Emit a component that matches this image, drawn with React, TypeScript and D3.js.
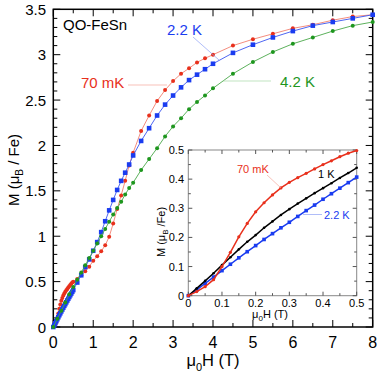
import React, { useEffect, useRef } from 'react';
import * as d3 from 'd3';

// main panel: field (T) and magnetisation (muB/Fe)
const fieldLow = [0, 0.025, 0.05, 0.075, 0.1, 0.125, 0.15, 0.175, 0.2, 0.225, 0.25, 0.275, 0.3, 0.325, 0.35, 0.375, 0.4, 0.425, 0.45, 0.475, 0.5];
const red70mKLow = [0, 0.014, 0.031, 0.055, 0.1, 0.149, 0.202, 0.248, 0.288, 0.319, 0.346, 0.37, 0.389, 0.405, 0.42, 0.435, 0.45, 0.463, 0.477, 0.489, 0.498];
const blue22KLow = [0, 0.02, 0.042, 0.064, 0.086, 0.108, 0.13, 0.151, 0.172, 0.193, 0.213, 0.233, 0.252, 0.272, 0.292, 0.311, 0.331, 0.35, 0.369, 0.388, 0.407];
const black1KLow = [0, 0.025, 0.051, 0.077, 0.105, 0.132, 0.159, 0.185, 0.208, 0.233, 0.255, 0.277, 0.297, 0.316, 0.334, 0.352, 0.369, 0.386, 0.404, 0.421, 0.439];

const fieldHigh = [0.6, 0.7, 0.8, 0.9, 1.0, 1.1, 1.2, 1.3, 1.4, 1.5, 1.6, 1.7, 1.8, 1.9, 2.0, 2.2, 2.4, 2.6, 2.8, 3.0, 3.2, 3.4, 3.6, 3.8, 4.0, 4.5, 5, 5.5, 6, 6.5, 7, 7.5, 8];
const red70mKHigh = [0.53, 0.57, 0.615, 0.665, 0.73, 0.78, 0.835, 0.9, 0.995, 1.14, 1.3, 1.45, 1.61, 1.78, 1.92, 2.16, 2.33, 2.49, 2.61, 2.71, 2.79, 2.85, 2.915, 2.96, 3.0, 3.1, 3.17, 3.23, 3.29, 3.33, 3.38, 3.42, 3.44];
const blue22KHigh = [0.49, 0.57, 0.66, 0.745, 0.84, 0.935, 1.045, 1.165, 1.285, 1.4, 1.51, 1.61, 1.7, 1.79, 1.89, 2.05, 2.19, 2.33, 2.45, 2.55, 2.64, 2.72, 2.78, 2.84, 2.9, 3.02, 3.11, 3.19, 3.26, 3.32, 3.36, 3.4, 3.44];

const field42K = [0, 0.1, 0.2, 0.3, 0.4, 0.5, 0.6, 0.7, 0.8, 0.9, 1.0, 1.1, 1.2, 1.3, 1.4, 1.5, 1.6, 1.7, 1.8, 1.9, 2.0, 2.2, 2.4, 2.6, 2.8, 3.0, 3.2, 3.4, 3.6, 3.8, 4.0, 4.5, 5, 5.5, 6, 6.5, 7, 7.5, 8];
const green42K = [0, 0.09, 0.18, 0.27, 0.36, 0.44, 0.52, 0.6, 0.68, 0.76, 0.84, 0.92, 1.0, 1.08, 1.16, 1.24, 1.31, 1.38, 1.46, 1.53, 1.59, 1.73, 1.85, 1.97, 2.1, 2.21, 2.3, 2.4, 2.48, 2.55, 2.63, 2.79, 2.92, 3.03, 3.12, 3.19, 3.26, 3.32, 3.36];

const xTicks = [0, 1, 2, 3, 4, 5, 6, 7, 8];
const yTicks = [0, 0.5, 1, 1.5, 2, 2.5, 3, 3.5];
const insetTicks = [0, 0.1, 0.2, 0.3, 0.4, 0.5];

const zip = (xs: number[], ys: number[]) => xs.map((h, i) => ({ h, m: ys[i] }));

const FONT = 'Liberation Sans, Arial, Helvetica, sans-serif';

function App() {
  const svgRef = useRef<SVGSVGElement>(null);

  useEffect(() => {
    const svg = d3.select(svgRef.current);
    svg.selectAll('*').remove();
    svg.style('font-family', FONT);

    const x = d3.scaleLinear().domain([0, 8]).range([53.3, 372.7]);
    const y = d3.scaleLinear().domain([0, 3.5]).range([327, 9.3]);

    const redMain = zip(fieldLow, red70mKLow).concat(zip(fieldHigh, red70mKHigh));
    const blueMain = zip(fieldLow, blue22KLow).concat(zip(fieldHigh, blue22KHigh));
    const greenMain = zip(field42K, green42K);

    // frame + ticks (inward, all four sides)
    const g = svg.append('g');
    const [x0, x1] = x.range();
    const [y0, y1] = y.range();
    g.append('rect').attr('x', x0).attr('y', y1).attr('width', x1 - x0).attr('height', y0 - y1)
      .attr('fill', 'none').attr('stroke', '#000').attr('stroke-width', 1.5);

    d3.range(0, 8.01, 0.5).forEach((v) => {
      const len = Math.abs(v - Math.round(v)) < 1e-6 ? 7 : 4;
      g.append('line').attr('x1', x(v)).attr('x2', x(v)).attr('y1', y0).attr('y2', y0 - len).attr('stroke', '#000');
      g.append('line').attr('x1', x(v)).attr('x2', x(v)).attr('y1', y1).attr('y2', y1 + len).attr('stroke', '#000');
    });
    d3.range(0, 3.501, 0.1).forEach((v) => {
      const len = Math.abs(v * 2 - Math.round(v * 2)) < 1e-6 ? 7 : 4;
      g.append('line').attr('x1', x0).attr('x2', x0 + len).attr('y1', y(v)).attr('y2', y(v)).attr('stroke', '#000');
      g.append('line').attr('x1', x1).attr('x2', x1 - len).attr('y1', y(v)).attr('y2', y(v)).attr('stroke', '#000');
    });

    g.selectAll('.xl').data(xTicks).enter().append('text')
      .attr('x', (d) => x(d)).attr('y', 348).attr('text-anchor', 'middle')
      .attr('font-size', 16).text((d) => String(d));
    g.selectAll('.yl').data(yTicks).enter().append('text')
      .attr('x', 46).attr('y', (d) => y(d) + 5.5).attr('text-anchor', 'end')
      .attr('font-size', 15).text((d) => String(d));

    // axis titles
    const yt = g.append('text').attr('transform', 'translate(19,170) rotate(-90)')
      .attr('text-anchor', 'middle').attr('font-size', 15);
    yt.append('tspan').text('M (μ');
    yt.append('tspan').attr('font-size', 10).attr('dy', 4).text('B');
    yt.append('tspan').attr('dy', -4).text(' / Fe)');

    const xt = g.append('text').attr('x', 213).attr('y', 366).attr('text-anchor', 'middle').attr('font-size', 16.5);
    xt.append('tspan').text('μ');
    xt.append('tspan').attr('font-size', 11).attr('dy', 5).text('0');
    xt.append('tspan').attr('dy', -5).text('H (T)');

    // main curves
    const line = d3.line<{ h: number; m: number }>().x((d) => x(d.h)).y((d) => y(d.m));
    const drawCircles = (data: { h: number; m: number }[], lineColor: string, color: string) => {
      g.append('path').datum(data).attr('d', line).attr('fill', 'none').attr('stroke', lineColor).attr('stroke-width', 0.9);
      g.append('g').selectAll('circle').data(data).enter().append('circle')
        .attr('cx', (d) => x(d.h)).attr('cy', (d) => y(d.m)).attr('r', 2).attr('fill', color);
    };
    drawCircles(redMain, '#f3806f', '#e8301c');
    g.append('path').datum(blueMain).attr('d', line).attr('fill', 'none').attr('stroke', '#3a55f0').attr('stroke-width', 0.9);
    g.append('g').selectAll('rect').data(blueMain).enter().append('rect')
      .attr('x', (d) => x(d.h) - 2.3).attr('y', (d) => y(d.m) - 2.3).attr('width', 4.6).attr('height', 4.6).attr('fill', '#1a3cf0');
    drawCircles(greenMain, '#4aa84a', '#1e961e');

    // main labels
    g.append('text').attr('x', 63).attr('y', 30).attr('font-size', 15).text('QO-FeSn');
    g.append('text').attr('x', 167).attr('y', 35).attr('font-size', 15).attr('fill', '#1a3cf0').text('2.2 K');
    g.append('line').attr('x1', 193).attr('y1', 37).attr('x2', 219).attr('y2', 60).attr('stroke', '#8ea0f5').attr('stroke-width', 0.7);
    g.append('text').attr('x', 81).attr('y', 88).attr('font-size', 15).attr('fill', '#e8301c').text('70 mK');
    g.append('line').attr('x1', 128).attr('y1', 85).attr('x2', 167).attr('y2', 85).attr('stroke', '#f5a89c').attr('stroke-width', 0.7);
    g.append('text').attr('x', 280).attr('y', 87).attr('font-size', 15).attr('fill', '#1e961e').text('4.2 K');
    g.append('line').attr('x1', 223).attr('y1', 81).attr('x2', 271).attr('y2', 81).attr('stroke', '#a8d8a8').attr('stroke-width', 0.7);

    // inset
    const xi = d3.scaleLinear().domain([0, 0.5]).range([188.3, 356.7]);
    const yi = d3.scaleLinear().domain([0, 0.5]).range([295.7, 150]);
    const gi = svg.append('g');
    const [ix0, ix1] = xi.range();
    const [iy0, iy1] = yi.range();
    gi.append('rect').attr('x', ix0).attr('y', iy1).attr('width', ix1 - ix0).attr('height', iy0 - iy1)
      .attr('fill', '#fff').attr('stroke', '#888').attr('stroke-width', 1);
    d3.range(0, 0.501, 0.05).forEach((v, i) => {
      const len = i % 2 === 0 ? 4 : 2.5;
      gi.append('line').attr('x1', xi(v)).attr('x2', xi(v)).attr('y1', iy0).attr('y2', iy0 - len).attr('stroke', '#555');
      gi.append('line').attr('x1', xi(v)).attr('x2', xi(v)).attr('y1', iy1).attr('y2', iy1 + len).attr('stroke', '#555');
      gi.append('line').attr('x1', ix0).attr('x2', ix0 + len).attr('y1', yi(v)).attr('y2', yi(v)).attr('stroke', '#555');
      gi.append('line').attr('x1', ix1).attr('x2', ix1 - len).attr('y1', yi(v)).attr('y2', yi(v)).attr('stroke', '#555');
    });
    gi.selectAll('.ixl').data(insetTicks).enter().append('text')
      .attr('x', (d) => xi(d)).attr('y', 307).attr('text-anchor', 'middle').attr('font-size', 11)
      .text((d) => String(d));
    gi.selectAll('.iyl').data(insetTicks).enter().append('text')
      .attr('x', 184).attr('y', (d) => yi(d) + 4).attr('text-anchor', 'end').attr('font-size', 11)
      .text((d) => String(d));
    const ixt = gi.append('text').attr('x', 270).attr('y', 318).attr('text-anchor', 'middle').attr('font-size', 11);
    ixt.append('tspan').text('μ');
    ixt.append('tspan').attr('font-size', 8).attr('dy', 3).text('0');
    ixt.append('tspan').attr('dy', -3).text('H (T)');
    const iyt = gi.append('text').attr('transform', 'translate(165,232) rotate(-90)').attr('text-anchor', 'middle').attr('font-size', 11);
    iyt.append('tspan').text('M (μ');
    iyt.append('tspan').attr('font-size', 8).attr('dy', 3).text('B');
    iyt.append('tspan').attr('dy', -3).text(' /Fe)');

    const iline = d3.line<{ h: number; m: number }>().x((d) => xi(d.h)).y((d) => yi(d.m));
    const blueIn = zip(fieldLow, blue22KLow);
    const blackIn = zip(fieldLow, black1KLow);
    const redIn = zip(fieldLow, red70mKLow);
    gi.append('path').datum(blueIn).attr('d', iline).attr('fill', 'none').attr('stroke', '#1a3cf0').attr('stroke-width', 1.5);
    gi.append('g').selectAll('rect').data(blueIn).enter().append('rect')
      .attr('x', (d) => xi(d.h) - 1.8).attr('y', (d) => yi(d.m) - 1.8).attr('width', 3.6).attr('height', 3.6).attr('fill', '#1a3cf0');
    gi.append('path').datum(blackIn).attr('d', iline).attr('fill', 'none').attr('stroke', '#000').attr('stroke-width', 1.5);
    gi.append('g').selectAll('circle').data(blackIn).enter().append('circle')
      .attr('cx', (d) => xi(d.h)).attr('cy', (d) => yi(d.m)).attr('r', 1.3).attr('fill', '#000');
    gi.append('path').datum(redIn).attr('d', iline).attr('fill', 'none').attr('stroke', '#e8301c').attr('stroke-width', 1.5);
    gi.append('g').selectAll('circle').data(redIn).enter().append('circle')
      .attr('cx', (d) => xi(d.h)).attr('cy', (d) => yi(d.m)).attr('r', 1.6).attr('fill', '#e8301c');

    gi.append('text').attr('x', 237).attr('y', 173).attr('font-size', 11).attr('fill', '#e8301c').text('70 mK');
    gi.append('line').attr('x1', 267).attr('y1', 175).attr('x2', 281).attr('y2', 188).attr('stroke', '#f5a89c').attr('stroke-width', 0.7);
    gi.append('text').attr('x', 318).attr('y', 178).attr('font-size', 11).text('1 K');
    gi.append('text').attr('x', 324).attr('y', 219).attr('font-size', 11).attr('fill', '#1a3cf0').text('2.2 K');
    gi.append('line').attr('x1', 303).attr('y1', 214.5).attr('x2', 322).attr('y2', 214.5).attr('stroke', '#8ea0f5').attr('stroke-width', 0.7);
  }, []);

  return (
    <svg ref={svgRef} width="381" height="376" style={{ position: 'absolute', left: 0, top: 0, background: '#fff' }}></svg>
  );
}

export default App;
